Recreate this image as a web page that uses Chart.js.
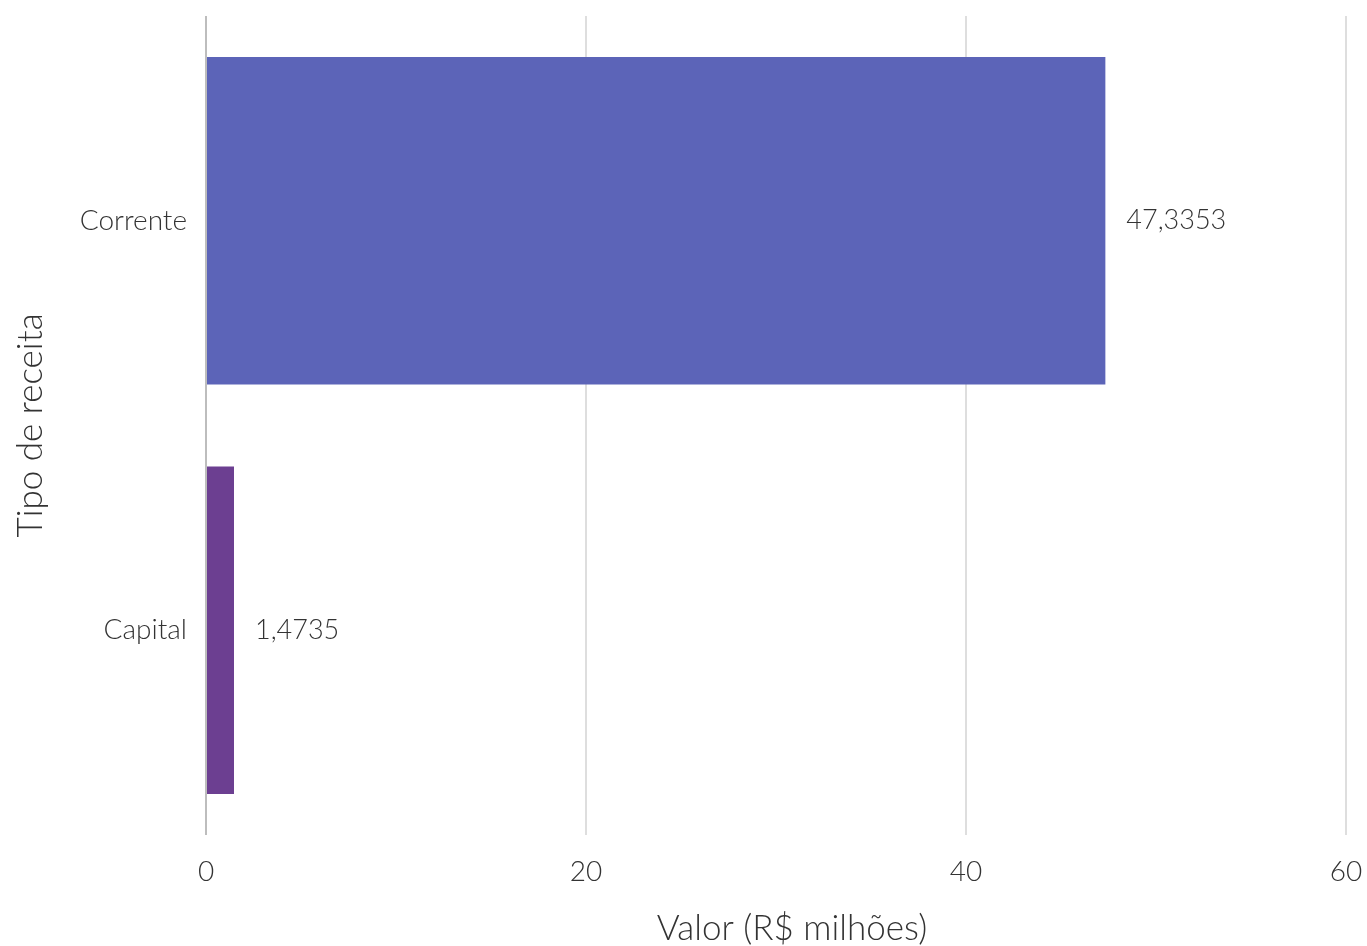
<!DOCTYPE html>
<html>
<head>
<meta charset="utf-8">
<script src="https://cdn.jsdelivr.net/npm/chart.js@4"></script>
<style>
    html, body { margin: 0; padding: 0; background: #ffffff; }
    #chart-wrap { width: 1367px; height: 946px; }
</style>
</head>
<body>
<div id="chart-wrap"><canvas id="chart-receita"></canvas></div>
<script>
// Data
var categories = ['Corrente', 'Capital'];
var values = [47.3353, 1.4735];
var valueLabels = ['47,3353', '1,4735'];
var barColors = ['#5c64b8', '#6c3f91'];
var xTicks = [0, 20, 40, 60];
var xTitle = 'Valor (R$ milhões)';
var yTitle = 'Tipo de receita';

var fontFamily = 'Lato, "Open Sans", sans-serif';
var textColor = '#333333';

/**
 * Draw value labels right of the bars
 */
var valueLabelPlugin = {
    id: 'valueLabel',
    afterDatasetsDraw: function (chart) {
        var ctx = chart.ctx;
        var meta = chart.getDatasetMeta(0);
        ctx.save();
        ctx.font = '300 27px ' + fontFamily;
        ctx.fillStyle = textColor;
        ctx.textAlign = 'left';
        ctx.textBaseline = 'middle';
        meta.data.forEach(function (bar, index) {
            ctx.fillText(valueLabels[index], bar.x + 21, bar.y);
        });
        ctx.restore();
    }
};

/**
 * Draw x axis title (slightly right of plot centre, as in the original)
 */
var xTitlePlugin = {
    id: 'xTitle',
    afterDraw: function (chart) {
        var ctx = chart.ctx;
        var area = chart.chartArea;
        ctx.save();
        ctx.font = '300 35px ' + fontFamily;
        ctx.fillStyle = textColor;
        ctx.textAlign = 'center';
        ctx.textBaseline = 'middle';
        ctx.fillText(xTitle, (area.left + area.right) / 2 + 16, chart.height - 17);
        ctx.restore();
    }
};

new Chart(document.getElementById('chart-receita').getContext('2d'), {
    type: 'bar',
    data: {
        labels: categories,
        datasets: [{
            data: values,
            backgroundColor: barColors,
            borderWidth: 0,
            barPercentage: 0.8,
            categoryPercentage: 1
        }]
    },
    plugins: [valueLabelPlugin, xTitlePlugin],
    options: {
        indexAxis: 'y',
        responsive: true,
        maintainAspectRatio: false,
        animation: false,
        layout: {
            padding: { top: 16, right: 21, bottom: 0, left: 0 }
        },
        plugins: {
            legend: { display: false },
            tooltip: { enabled: false }
        },
        scales: {
            x: {
                min: 0,
                max: 60,
                afterBuildTicks: function (axis) {
                    axis.ticks = xTicks.map(function (v) { return { value: v }; });
                },
                afterFit: function (axis) {
                    // Fixed axis height, no side padding
                    axis.height = 111;
                    axis.paddingLeft = 0;
                    axis.paddingRight = 0;
                },
                ticks: {
                    color: textColor,
                    padding: 20,
                    font: { family: fontFamily, size: 28, weight: '300' }
                },
                grid: {
                    display: true,
                    drawTicks: false,
                    color: function (c) {
                        return c.tick && c.tick.value === 0 ? '#bdbdbd' : '#dedede';
                    },
                    lineWidth: 2
                },
                border: { display: false },
                title: { display: false }
            },
            y: {
                afterFit: function (axis) {
                    // Fixed axis width, no top/bottom padding
                    axis.width = 206;
                    axis.paddingTop = 0;
                    axis.paddingBottom = 0;
                },
                ticks: {
                    color: textColor,
                    padding: 19,
                    font: { family: fontFamily, size: 28, weight: '300' }
                },
                grid: { display: false, drawTicks: false },
                border: { display: false },
                title: {
                    display: true,
                    text: yTitle,
                    color: textColor,
                    padding: { top: 10, bottom: 0 },
                    font: { family: fontFamily, size: 35, weight: '300' }
                }
            }
        }
    }
});
</script>
</body>
</html>
